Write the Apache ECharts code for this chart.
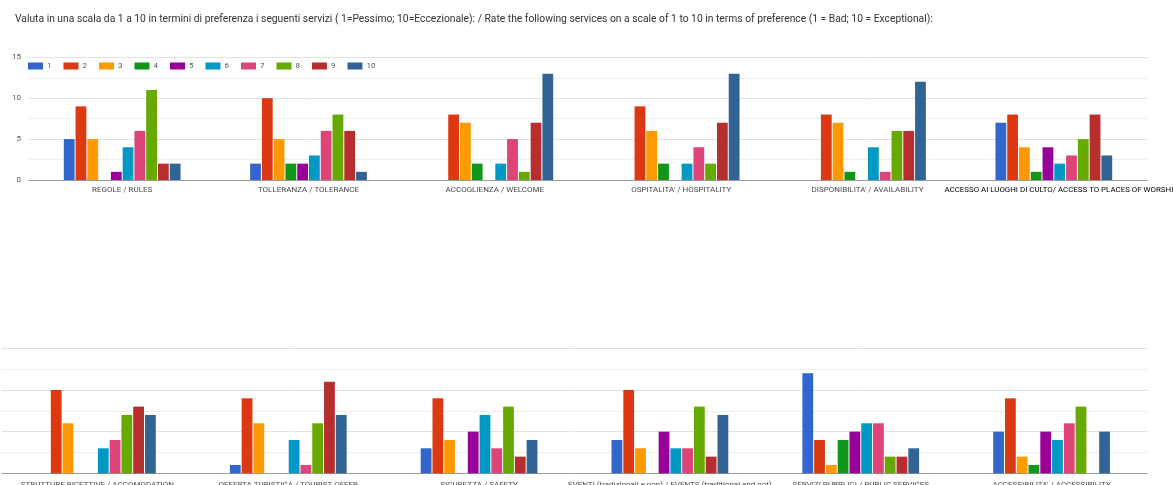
<!DOCTYPE html>
<html><head><meta charset="utf-8">
<script src="https://cdn.jsdelivr.net/npm/echarts@6/dist/echarts.min.js"></script>
<style>html,body{margin:0;padding:0;background:#fff}#c{width:1173px;height:485px}</style>
</head><body><div id="c"></div>
<script>
const titleText = "Valuta in una scala da 1 a 10 in termini di preferenza i seguenti servizi ( 1=Pessimo; 10=Eccezionale): / Rate the following services on a scale of 1 to 10 in terms of preference (1 = Bad; 10 = Exceptional):";
const seriesNames = ["1","2","3","4","5","6","7","8","9","10"];
const colors = ["#3366cc","#dc3912","#ff9900","#109618","#990099","#0099c6","#dd4477","#66aa00","#b82e2e","#316395"];
const topCategories = ["REGOLE / RULES","TOLLERANZA / TOLERANCE","ACCOGLIENZA / WELCOME","OSPITALITA' / HOSPITALITY","DISPONIBILITA' / AVAILABILITY","ACCESSO AI LUOGHI DI CULTO/ ACCESS TO PLACES OF WORSHIP"];
const bottomCategories = ["STRUTTURE RICETTIVE / ACCOMODATION","OFFERTA TURISTICA / TOURIST OFFER","SICUREZZA / SAFETY","EVENTI (tradizionali e non) / EVENTS (traditional and not)","SERVIZI PUBBLICI / PUBLIC SERVICES","ACCESSIBILITA' / ACCESSIBILITY"];
// rows = category, columns = rating 1..10
const topValues = [
  [5,9,5,0,1,4,6,11,2,2],
  [2,10,5,2,2,3,6,8,6,1],
  [0,8,7,2,0,2,5,1,7,13],
  [0,9,6,2,0,2,4,2,7,13],
  [0,8,7,1,0,4,1,6,6,12],
  [7,8,4,1,4,2,3,5,8,3]
];
const bottomValues = [
  [0,10,6,0,0,3,4,7,8,7],
  [1,9,6,0,0,4,1,6,11,7],
  [3,9,4,0,5,7,3,8,2,4],
  [4,10,3,0,5,3,3,8,2,7],
  [12,4,1,4,5,6,6,2,2,3],
  [5,9,2,1,5,4,6,8,0,5]
];
const yTicks = [0,5,10,15];

const chart = echarts.init(document.getElementById('c'));
function mkSeries(vals, idx){
  return seriesNames.map((n,i)=>({
    name:n, type:'bar', xAxisIndex:idx, yAxisIndex:idx,
    data: vals.map(r=>r[i]===0?null:r[i]),
    barWidth:10.8, barGap:'9%',
    itemStyle:{color:colors[i]}
  }));
}
const yAx = (idx, showLabels)=>({
  gridIndex:idx, type:'value', min:yTicks[0], max:yTicks[yTicks.length-1], interval:5,
  axisLabel:{show:showLabels, fontSize:8, color:'#555', fontFamily:'Roboto', margin:8},
  axisLine:{show:false}, axisTick:{show:false},
  splitLine:{lineStyle:{color:'#e2e2e2'}},
  minorTick:{show:false, splitNumber:2},
  minorSplitLine:{show:true, lineStyle:{color:'#efefef'}}
});
const xAx = (idx, cats, margin)=>({
  gridIndex:idx, type:'category', data:cats,
  axisLine:{lineStyle:{color:'#999'}}, axisTick:{show:false},
  axisLabel:{interval:0, fontSize:8, color:'#4a4a4a', fontFamily:'Roboto', margin:margin, hideOverlap:false,
    formatter:(v)=> v.startsWith('ACCESSO AI') ? '{b|'+v+'}' : v,
    rich:{b:{fontSize:7.9, color:'#000', fontFamily:'Roboto', padding:[0,0,0,15]}}}
});
chart.setOption({
  animation:false,
  title:{text:titleText, left:10, top:9, textStyle:{fontSize:10.3, fontWeight:'normal', color:'#333', fontFamily:'Roboto'}},
  legend:{data:seriesNames, left:28, top:62, padding:0, itemWidth:15, itemHeight:7, itemGap:12,
    icon:'rect', textStyle:{fontSize:8, color:'#555', fontFamily:'Roboto', padding:[0,0,0,-1]}},
  grid:[
    {left:29, right:26, top:57.3, bottom:305, outerBoundsMode:'none', containLabel:false},
    {left:2, right:26, top:348.3, bottom:11.7, outerBoundsMode:'none', containLabel:false}
  ],
  xAxis:[xAx(0, topCategories, 6), xAx(1, bottomCategories, 8)],
  yAxis:[yAx(0,true), yAx(1,false)],
  series:[...mkSeries(topValues,0), ...mkSeries(bottomValues,1)]
});
</script></body></html>
